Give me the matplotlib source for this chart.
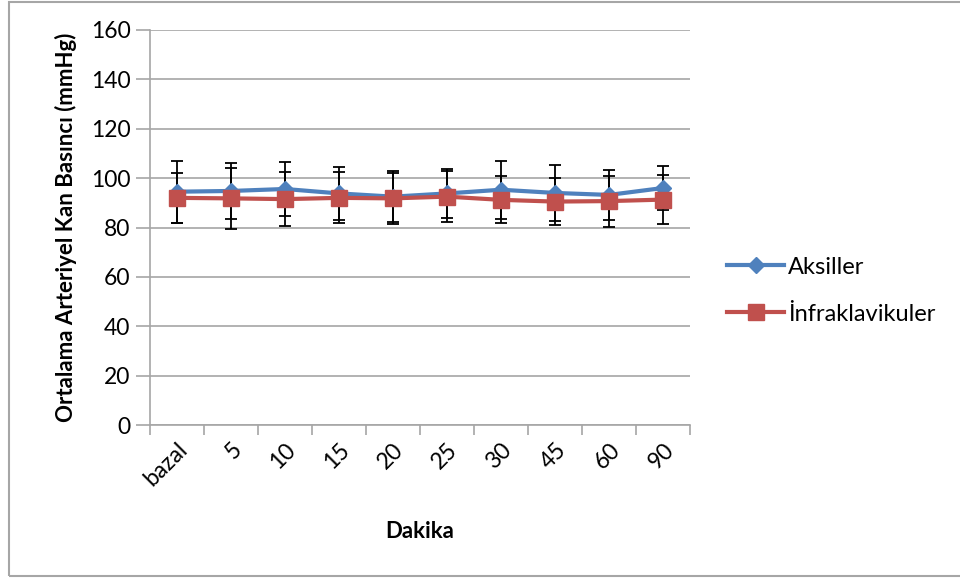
import numpy as np
import matplotlib.pyplot as plt
from matplotlib.patches import Rectangle

plt.rcParams['font.family'] = ['Lato', 'DejaVu Sans']

# Dakika (time points)
dakika = ['bazal', '5', '10', '15', '20', '25', '30', '45', '60', '90']

# Ortalama arteriyel kan basıncı (mmHg), mean and error
aksiller = [94.5, 94.8, 95.6, 93.8, 92.5, 93.8, 95.3, 94.0, 93.2, 96.0]
aksiller_err = [12.5, 11.4, 11.0, 10.8, 10.4, 9.8, 11.7, 11.3, 10.0, 9.0]
infra = [92.0, 91.8, 91.5, 92.0, 91.8, 92.5, 91.2, 90.5, 90.7, 91.3]
infra_err = [10.0, 12.5, 10.8, 10.3, 10.2, 10.3, 9.5, 9.5, 10.3, 10.0]

blue = '#4f81bd'
red = '#c0504d'
grid_c = '#a6a6a6'

fig = plt.figure(figsize=(9.6, 5.78), dpi=100)
ax = fig.add_axes([150/960, 1 - 425/578, 540/960, 395/578])

x = np.arange(len(dakika))

ax.errorbar(x, aksiller, yerr=aksiller_err, fmt='none', ecolor='black',
            elinewidth=1.3, capsize=4.5, capthick=1.3, zorder=3)
ax.errorbar(x, infra, yerr=infra_err, fmt='none', ecolor='black',
            elinewidth=1.3, capsize=4.5, capthick=1.3, zorder=3)
ax.plot(x, aksiller, color=blue, lw=3, marker='D', ms=8, label='Aksiller', zorder=4)
ax.plot(x, infra, color=red, lw=3, marker='s', ms=11, label='İnfraklavikuler', zorder=5)

ax.set_xlim(-0.5, len(dakika) - 0.5)
ax.set_ylim(0, 160)
ax.set_yticks(np.arange(0, 161, 20))
ax.yaxis.grid(True, color=grid_c, lw=1.2)
ax.set_axisbelow(True)

ax.set_xticks(x)
ax.set_xticklabels(dakika, rotation=45, ha='right', rotation_mode='anchor', fontsize=16.5)
ax.set_xticks(np.arange(-0.5, len(dakika)), minor=True)
ax.tick_params(axis='x', which='major', length=0, pad=10)
ax.tick_params(axis='x', which='minor', length=7, color=grid_c, width=1.2)
ax.tick_params(axis='y', length=10, color=grid_c, width=1.2, labelsize=16.5, pad=4)

for s in ['top', 'right']:
    ax.spines[s].set_visible(False)
for s in ['left', 'bottom']:
    ax.spines[s].set_color(grid_c)
    ax.spines[s].set_linewidth(1.2)

ax.set_ylabel('Ortalama Arteriyel Kan Basıncı (mmHg)', fontsize=16, fontweight='bold', labelpad=10)
ax.set_xlabel('Dakika', fontsize=16, fontweight='bold', labelpad=22)

ax.legend(loc='center left', bbox_to_anchor=(1.03, 0.34), frameon=False,
          fontsize=17, handlelength=2.4, labelspacing=1.1, handletextpad=0.15)

fig.patches.append(Rectangle((9/960, 2/578), 1.0, 574/578, transform=fig.transFigure,
                             fill=False, edgecolor='#a6a6a6', lw=1.5))

fig.savefig('out.png', dpi=100)
